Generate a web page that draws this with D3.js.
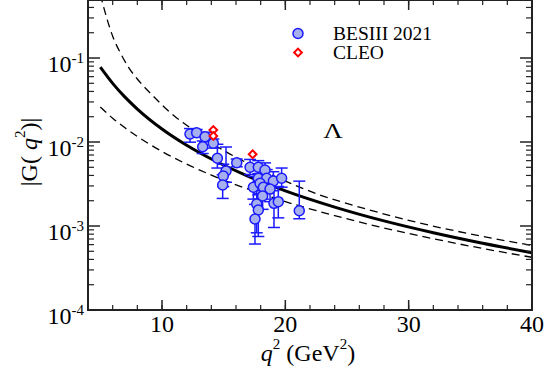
<!DOCTYPE html>
<html><head><meta charset="utf-8">
<script src="https://cdn.jsdelivr.net/npm/d3@7"></script>
<style>body{margin:0;background:#fff}svg{display:block}text{font-family:"Liberation Serif","Times New Roman",serif}</style>
</head><body><div id="c"></div>
<script>
// theory curves (q^2 in GeV^2, |G|)
const centralQ2 = [5, 6, 7, 8, 10, 12, 14, 17, 20, 24, 28, 32, 36, 40];
const centralG  = [0.0778, 0.0499, 0.0342, 0.0247, 0.01429, 0.00915, 0.00628, 0.00391, 0.00262, 0.00168, 0.00115, 8.31e-4, 6.23e-4, 4.81e-4];
const upperQ2 = [5.0, 5.5, 6.0, 6.7, 7.3, 8.0, 9.4, 11.0, 12.0, 14.0, 17.0, 20.0, 22.81, 26.0, 30.92, 35.0, 40.0];
const upperG  = [0.57, 0.306, 0.182, 0.1096, 0.0769, 0.0562, 0.0339, 0.0204, 0.01585, 0.00977, 0.00553, 0.00343, 0.00234, 0.00168, 0.001084, 8.04e-4, 5.86e-4];
const lowerQ2 = [5, 6, 7, 8, 10, 12, 14, 17, 20, 24, 28, 32, 36, 40];
const lowerG  = [0.0261, 0.0192, 0.01475, 0.01163, 0.00772, 0.00546, 0.00404, 0.00274, 0.00195, 0.00133, 9.48e-4, 7.05e-4, 5.4e-4, 4.24e-4];

// BESIII 2021
const besQ2 = [12.27, 12.81, 13.49, 13.30, 14.16, 14.49, 15.19, 14.97, 14.92, 16.06, 17.14, 17.81, 18.35, 17.81, 18.49, 19.03, 19.70, 17.41, 17.95, 18.22, 18.76, 18.16, 17.68, 17.81, 17.54, 19.08, 19.43, 21.13];
const besG  = [0.01245, 0.0129, 0.01156, 0.00879, 0.00966, 0.0064, 0.00452, 0.00394, 0.00308, 0.00567, 0.0050, 0.0050, 0.00464, 0.0037, 0.0037, 0.00343, 0.0037, 0.00289, 0.00322, 0.00289, 0.00275, 0.00228, 0.00183, 0.00155, 0.00121, 0.00186, 0.00195, 0.00152];
const besErrLo = [0.0025, 0.0012, 0.0015, 0.0015, 0.0012, 0.0015, 0.0012, 0.0010, 0.00095, 0.0006, 0.0009, 0.0008, 0.0008, 0.0007, 0.0008, 0.0008, 0.0008, 0.0008, 0.0008, 0.0008, 0.0008, 0.0007, 0.0010, 0.0008, 0.0006, 0.0009, 0.0007, 0.0003];
const besErrHi = [0.0020, 0.0012, 0.0015, 0.0015, 0.0012, 0.0030, 0.0042, 0.0015, 0.0010, 0.0006, 0.0012, 0.0010, 0.0010, 0.0010, 0.0010, 0.0010, 0.0012, 0.0010, 0.0010, 0.0010, 0.0010, 0.0008, 0.0008, 0.0008, 0.0006, 0.0010, 0.0010, 0.0019];

// CLEO
const cleoQ2 = [14.16, 14.16, 17.35];
const cleoG  = [0.0139, 0.0118, 0.00714];
const cleoErr = [0.0012, 0.0010, 0.0006];

const xTicks = [10, 20, 30, 40];
const yTickExp = [-4, -3, -2, -1];

const W = 544, H = 378;
const L = 88, R = 532, T = -0.7, B = 310;
const svg = d3.select("#c").append("svg").attr("width", W).attr("height", H);
const x = d3.scaleLinear().domain([4, 40]).range([L, R]);
const y = d3.scaleLog().domain([1e-4, 0.5]).range([B, T]);

svg.append("defs").append("clipPath").attr("id", "clip")
  .append("rect").attr("x", L).attr("y", 0).attr("width", R - L).attr("height", B);

const plot = svg.append("g").attr("clip-path", "url(#clip)");
const line = d3.line().x(d => x(d[0])).y(d => y(d[1])).curve(d3.curveMonotoneX);
plot.append("path").datum(d3.zip(upperQ2, upperG)).attr("d", line)
  .attr("fill", "none").attr("stroke", "#000").attr("stroke-width", 1.3).attr("stroke-dasharray", "8,5");
plot.append("path").datum(d3.zip(lowerQ2, lowerG)).attr("d", line)
  .attr("fill", "none").attr("stroke", "#000").attr("stroke-width", 1.3).attr("stroke-dasharray", "8,5");
plot.append("path").datum(d3.zip(centralQ2, centralG)).attr("d", line)
  .attr("fill", "none").attr("stroke", "#000").attr("stroke-width", 3);

// error bars BESIII
const bes = besQ2.map((q, i) => ({q, g: besG[i], lo: besErrLo[i], hi: besErrHi[i]}));
const eb = plot.append("g").attr("stroke", "#1a1aff").attr("stroke-width", 1.5);
bes.forEach(d => {
  const cx = x(d.q), y1 = y(d.g + d.hi), y2 = y(Math.max(d.g - d.lo, 1e-5));
  eb.append("line").attr("x1", cx).attr("x2", cx).attr("y1", y1).attr("y2", y2);
  eb.append("line").attr("x1", cx - 6).attr("x2", cx + 6).attr("y1", y1).attr("y2", y1);
  eb.append("line").attr("x1", cx - 6).attr("x2", cx + 6).attr("y1", y2).attr("y2", y2);
});
// CLEO error bars
const cleo = cleoQ2.map((q, i) => ({q, g: cleoG[i], e: cleoErr[i]}));
const ceb = plot.append("g").attr("stroke", "#ff0000").attr("stroke-width", 1.5);
cleo.forEach(d => {
  const cx = x(d.q);
  ceb.append("line").attr("x1", cx).attr("x2", cx).attr("y1", y(d.g + d.e)).attr("y2", y(d.g - d.e));
});
plot.append("g").selectAll("circle").data(bes).join("circle")
  .attr("cx", d => x(d.q)).attr("cy", d => y(d.g)).attr("r", 5)
  .attr("fill", "#a7b0ee").attr("stroke", "#1a1aff").attr("stroke-width", 1.5);
const diamond = d3.symbol().type(d3.symbolSquare).size(30);
plot.append("g").selectAll("path").data(cleo).join("path")
  .attr("d", diamond).attr("transform", d => `translate(${x(d.q)},${y(d.g)}) rotate(45)`)
  .attr("fill", "#fff").attr("stroke", "#ff0000").attr("stroke-width", 2);

// frame
svg.append("rect").attr("x", L).attr("y", 0).attr("width", R - L).attr("height", B)
  .attr("fill", "none").attr("stroke", "#222").attr("stroke-width", 2);

// x ticks
d3.range(6, 40, 2).forEach(v => {
  svg.append("line").attr("x1", x(v)).attr("x2", x(v)).attr("y1", B).attr("y2", B - 5).attr("stroke", "#222").attr("stroke-width", 1.2);
  svg.append("line").attr("x1", x(v)).attr("x2", x(v)).attr("y1", 0).attr("y2", 5).attr("stroke", "#222").attr("stroke-width", 1.2);
});
xTicks.forEach(v => {
  svg.append("line").attr("x1", x(v)).attr("x2", x(v)).attr("y1", B).attr("y2", B - 10).attr("stroke", "#222").attr("stroke-width", 1.5);
  svg.append("line").attr("x1", x(v)).attr("x2", x(v)).attr("y1", 0).attr("y2", 10).attr("stroke", "#222").attr("stroke-width", 1.5);
  svg.append("text").attr("x", x(v)).attr("y", 332).attr("text-anchor", "middle")
    .attr("font-size", 24).text(v);
});
// y ticks
yTickExp.forEach(e => {
  const v = Math.pow(10, e);
  svg.append("line").attr("x1", L).attr("x2", L + 12).attr("y1", y(v)).attr("y2", y(v)).attr("stroke", "#222").attr("stroke-width", 1.5);
  svg.append("line").attr("x1", R).attr("x2", R - 12).attr("y1", y(v)).attr("y2", y(v)).attr("stroke", "#222").attr("stroke-width", 1.5);
  for (let k = 2; k <= 9; k++) {
    const m = k * v;
    if (m > 0.5) break;
    svg.append("line").attr("x1", L).attr("x2", L + 6).attr("y1", y(m)).attr("y2", y(m)).attr("stroke", "#222").attr("stroke-width", 1.2);
    svg.append("line").attr("x1", R).attr("x2", R - 6).attr("y1", y(m)).attr("y2", y(m)).attr("stroke", "#222").attr("stroke-width", 1.2);
  }
  const t = svg.append("text").attr("x", 84).attr("y", y(v) + 13.5).attr("text-anchor", "end").attr("font-size", 24);
  t.append("tspan").text("10");
  t.append("tspan").attr("font-size", 15).attr("dy", -9).text("" + e);
});

// axis titles
const xt = svg.append("text").attr("x", 308).attr("y", 361).attr("text-anchor", "middle").attr("font-size", 24);
xt.append("tspan").attr("font-style", "italic").text("q");
xt.append("tspan").attr("font-size", 15).attr("dy", -12).text("2");
xt.append("tspan").attr("dy", 12).text(" (GeV");
xt.append("tspan").attr("font-size", 15).attr("dy", -12).text("2");
xt.append("tspan").attr("dy", 12).text(")");

const yt = svg.append("text").attr("transform", "translate(37,152) rotate(-90)").attr("text-anchor", "middle").attr("font-size", 24);
yt.append("tspan").text("|G( ");
yt.append("tspan").attr("font-style", "italic").text("q");
yt.append("tspan").attr("font-size", 15).attr("dy", -12).text("2");
yt.append("tspan").attr("dy", 12).text(")|");

// Lambda label
svg.append("text").attr("transform", "translate(333,137.5) scale(1.35,1)").attr("text-anchor", "middle")
  .attr("font-size", 20).text("Λ");

// legend
svg.append("circle").attr("cx", 298).attr("cy", 33.5).attr("r", 5)
  .attr("fill", "#a7b0ee").attr("stroke", "#1a1aff").attr("stroke-width", 1.5);
svg.append("text").attr("x", 333).attr("y", 39.5).attr("font-size", 19.5).text("BESIII 2021");
svg.append("path").attr("d", diamond).attr("transform", "translate(298,52.5) rotate(45)")
  .attr("fill", "#fff").attr("stroke", "#ff0000").attr("stroke-width", 2);
svg.append("text").attr("x", 333).attr("y", 58.5).attr("font-size", 19.5).text("CLEO");
</script></body></html>
